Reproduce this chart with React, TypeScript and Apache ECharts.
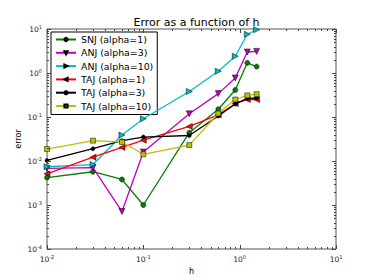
import React, { useEffect, useRef } from 'react';
import * as echarts from 'echarts';

const hValues = [0.01, 0.03, 0.06, 0.1, 0.3, 0.6, 0.9, 1.2, 1.5];
const snj1 = [0.0042, 0.0057, 0.0038, 0.001, 0.044, 0.15, 0.41, 1.7, 1.4];
const anj3 = [0.0068, 0.0071, 0.00071, 0.016, 0.118, 0.34, 0.77, 3.0, 3.1];
const anj10 = [0.0074, 0.0083, 0.039, 0.091, 0.38, 1.1, 2.4, 7.6, 9.6];
const taj1 = [0.0051, 0.0122, 0.0204, 0.0297, 0.061, 0.112, 0.2, 0.25, 0.25];
const taj3 = [0.0103, 0.019, 0.029, 0.035, 0.038, 0.105, 0.198, 0.265, 0.27];
const taj10 = [0.0187, 0.029, 0.027, 0.0142, 0.023, 0.12, 0.25, 0.31, 0.33];

const seriesNames = ['SNJ (alpha=1)', 'ANJ (alpha=3)', 'ANJ (alpha=10)', 'TAJ (alpha=1)', 'TAJ (alpha=3)', 'TAJ (alpha=10)'];
const seriesValues = [snj1, anj3, anj10, taj1, taj3, taj10];
const seriesColors = ['#008000', '#bf00bf', '#00bfbf', '#ff0000', '#000000', '#bfbf00'];
const seriesSymbols = ['circle', 'triangle', 'triangle', 'triangle', 'circle', 'rect'];
const seriesRotate = [0, 180, -90, 90, 0, 0];
const seriesSymbolSize = [5, 6, 6, 6, 4, 5];

const xDecades = [0.01, 0.1, 1, 10];
const yDecades = [0.0001, 0.001, 0.01, 0.1, 1, 10];
const minorMultipliers = [2, 3, 4, 5, 6, 7, 8, 9];

const fmtPow = (v: number) => {
  const e = Math.round(Math.log10(v));
  return '{b|10}{s|' + e + '}';
};

export default function App() {
  const ref = useRef<HTMLDivElement>(null);
  useEffect(() => {
    if (!ref.current) return;
    const chart = echarts.init(ref.current, undefined, { renderer: 'svg' });

    const xTicks: number[][] = [];
    xDecades.forEach((d, i) => {
      xTicks.push([d, 1, 1]);
      if (i < xDecades.length - 1) minorMultipliers.forEach((m) => xTicks.push([d * m, 1, 0]));
    });
    const yTicks: number[][] = [];
    yDecades.forEach((d, i) => {
      yTicks.push([1, d, 1]);
      if (i < yDecades.length - 1) minorMultipliers.forEach((m) => yTicks.push([1, d * m, 0]));
    });

    const tickColor = '#444';
    const rich = {
      b: { fontSize: 7.5, color: '#222', fontFamily: 'DejaVu Sans' },
      s: { fontSize: 5, color: '#222', fontFamily: 'DejaVu Sans', padding: [0, 0, 5, 0] },
    };

    const lineSeries = seriesNames.map((name, i) => ({
      type: 'line',
      name,
      data: hValues.map((h, j) => [h, seriesValues[i][j]]),
      symbol: seriesSymbols[i],
      symbolSize: seriesSymbolSize[i],
      symbolRotate: seriesRotate[i],
      showAllSymbol: true,
      lineStyle: { color: seriesColors[i], width: 1.3 },
      itemStyle: { color: seriesColors[i], borderColor: '#000', borderWidth: 0.5 },
      z: 3 + i,
    }));

    chart.setOption({
      animation: false,
      title: {
        text: 'Error as a function of h',
        left: 191.5,
        textAlign: 'center',
        top: 12,
        textStyle: { fontSize: 11, fontWeight: 'normal', color: '#000', fontFamily: 'DejaVu Sans' },
      },
      grid: {
        left: 47,
        right: 38,
        top: 29,
        bottom: 28,
        show: true,
        borderColor: '#555',
        borderWidth: 1,
        backgroundColor: '#fff',
      },
      legend: {
        orient: 'vertical',
        left: 51,
        top: 32,
        padding: [1, 4, 2, 4],
        itemGap: 0.3,
        itemWidth: 20,
        itemHeight: 4,
        backgroundColor: '#fff',
        borderColor: '#000',
        borderWidth: 1,
        borderRadius: 0,
        textStyle: { fontSize: 9.4, lineHeight: 13, color: '#000', fontFamily: 'DejaVu Sans' },
        data: seriesNames,
      },
      xAxis: {
        type: 'log',
        logBase: 10,
        min: 0.01,
        max: 10,
        name: 'h',
        nameLocation: 'middle',
        nameGap: 18,
        nameMoveOverlap: false,
        nameTextStyle: { fontSize: 8, color: '#000', fontFamily: 'DejaVu Sans' },
        axisLine: { show: false },
        axisTick: { show: false },
        splitLine: { show: false },
        axisLabel: { margin: 5, formatter: fmtPow, rich },
      },
      yAxis: {
        type: 'log',
        logBase: 10,
        min: 0.0001,
        max: 10,
        name: 'error',
        nameLocation: 'middle',
        nameGap: 25,
        nameMoveOverlap: false,
        nameRotate: 90,
        nameTextStyle: { fontSize: 8, color: '#000', fontFamily: 'DejaVu Sans' },
        axisLine: { show: false },
        axisTick: { show: false },
        splitLine: { show: false },
        axisLabel: { margin: 5, formatter: fmtPow, rich },
      },
      series: [
        ...lineSeries,
        {
          type: 'custom',
          name: 'xticks',
          silent: true,
          clip: false,
          z: 10,
          encode: { x: 0, y: 1 },
          data: xTicks,
          renderItem: (params: any, api: any) => {
            const cs = params.coordSys;
            const x = Math.round(api.coord([api.value(0), 1])[0]) + 0.5;
            const len = api.value(2) ? 4 : 2;
            const b = cs.y + cs.height;
            return {
              type: 'group',
              children: [
                { type: 'line', shape: { x1: x, y1: b, x2: x, y2: b - len }, style: { stroke: tickColor, lineWidth: 1 } },
                { type: 'line', shape: { x1: x, y1: cs.y, x2: x, y2: cs.y + len }, style: { stroke: tickColor, lineWidth: 1 } },
              ],
            };
          },
        },
        {
          type: 'custom',
          name: 'yticks',
          silent: true,
          clip: false,
          z: 10,
          encode: { x: 0, y: 1 },
          data: yTicks,
          renderItem: (params: any, api: any) => {
            const cs = params.coordSys;
            const y = Math.round(api.coord([1, api.value(1)])[1]) + 0.5;
            const len = api.value(2) ? 4 : 2;
            const r = cs.x + cs.width;
            return {
              type: 'group',
              children: [
                { type: 'line', shape: { x1: cs.x, y1: y, x2: cs.x + len, y2: y }, style: { stroke: tickColor, lineWidth: 1 } },
                { type: 'line', shape: { x1: r, y1: y, x2: r - len, y2: y }, style: { stroke: tickColor, lineWidth: 1 } },
              ],
            };
          },
        },
      ],
    });
    return () => chart.dispose();
  }, []);
  return <div ref={ref} style={{ position: 'fixed', left: 0, top: 0, width: 374, height: 280, background: '#fff' }} />;
}
